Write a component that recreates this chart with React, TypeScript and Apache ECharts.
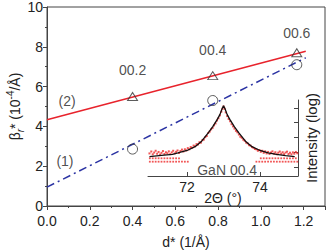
import React, { useEffect, useRef } from 'react';
import * as echarts from 'echarts';

// Main plot data: d* (1/Å) vs β_r* (10^-4/Å)
const reflections = ['00.2', '00.4', '00.6'];
const dStar = [0.4, 0.775, 1.168];
const betaTriangles = [5.5, 6.55, 7.7];
const betaCircles = [2.86, 5.3, 7.1];
const labelDistances = [15, 14, 8];
const fitLine2 = [[0, 4.33], [1.21, 7.78]];
const fitLine1 = [[0, 0.95], [1.21, 7.45]];
const lineTags = ['(2)', '(1)'];
const lineTagPos = [[0.094, 5.28], [0.084, 2.26]];

// Inset data: 2Θ (°) vs log intensity
const insetTag = 'GaN 00.4';
const insetTagPos = [73.1, 0.8];
const insetFit = [
  [70.97, 1.7], [71.3, 1.79], [71.6, 1.86], [71.75, 1.95], [72.0, 2.12], [72.22, 2.38],
  [72.4, 2.75], [72.58, 3.31], [72.7, 3.72], [72.82, 4.19], [72.9, 4.55], [72.96, 4.95],
  [73.0, 5.14], [73.04, 4.95], [73.1, 4.55], [73.18, 4.19], [73.3, 3.72], [73.42, 3.31],
  [73.6, 2.75], [73.78, 2.38], [74.0, 2.12], [74.22, 1.95], [74.45, 1.85], [74.7, 1.77], [74.95, 1.7],
];
const insetMeasured = [
  [70.97, 1.92], [71.02, 2.05], [71.06, 1.86], [71.1, 1.98], [71.14, 2.1], [71.18, 1.9],
  [71.22, 2.02], [71.26, 1.84], [71.3, 1.96], [71.34, 2.08], [71.38, 1.88], [71.42, 2.0],
  [71.46, 1.93], [71.5, 2.06], [71.54, 1.87], [71.58, 1.99], [71.62, 2.1], [71.66, 1.92],
  [71.7, 2.03], [71.74, 2.12], [71.78, 1.95], [71.82, 2.08], [71.86, 2.18], [71.9, 2.05],
  [71.94, 2.2], [71.98, 2.12], [72.02, 2.28], [72.06, 2.2], [72.1, 2.35], [72.14, 2.3],
  [72.18, 2.45], [72.22, 2.4], [72.26, 2.55], [72.3, 2.52], [72.34, 2.68], [72.38, 2.65],
  [72.42, 2.82], [72.46, 2.86], [72.5, 3.02], [72.54, 3.1], [72.58, 3.3], [72.62, 3.4],
  [72.66, 3.55], [72.7, 3.65], [72.74, 3.82], [72.78, 3.95], [72.82, 4.15], [72.86, 4.3],
  [72.9, 4.5], [72.94, 4.75], [72.97, 4.95], [73.0, 5.1], [73.03, 4.95], [73.06, 4.7],
  [73.1, 4.45], [73.14, 4.25], [73.18, 4.1], [73.22, 3.9], [73.26, 3.75], [73.3, 3.6],
  [73.34, 3.45], [73.38, 3.35], [73.42, 3.2], [73.46, 3.05], [73.5, 2.98], [73.54, 2.85],
  [73.58, 2.78], [73.62, 2.65], [73.66, 2.6], [73.7, 2.48], [73.74, 2.45], [73.78, 2.35],
  [73.82, 2.3], [73.86, 2.22], [73.9, 2.2], [73.94, 2.1], [73.98, 2.15], [74.02, 2.03],
  [74.06, 2.1], [74.1, 1.96], [74.14, 2.06], [74.18, 1.92], [74.22, 2.02], [74.26, 1.88],
  [74.3, 1.98], [74.34, 2.06], [74.38, 1.9], [74.42, 2.0], [74.46, 1.86], [74.5, 1.97],
  [74.54, 2.05], [74.58, 1.9], [74.62, 2.0], [74.66, 1.87], [74.7, 1.98], [74.74, 2.04],
  [74.78, 1.88], [74.82, 1.97], [74.86, 1.86], [74.9, 1.99], [74.94, 1.9], [74.98, 2.02], [75.02, 1.93],
];
const floorLevelLow = 1.36;
const floorLevelHigh = 1.59;
const floorAnglesLow = [
  70.98, 71.06, 71.14, 71.22, 71.3, 71.38, 71.46, 71.54, 71.62, 71.7, 71.78, 71.86, 71.94, 72.02,
  73.9, 73.98, 74.06, 74.14, 74.22, 74.3, 74.38, 74.46, 74.54, 74.62, 74.7, 74.78, 74.86, 74.94, 75.02,
];
const floorAnglesHigh = [
  70.98, 71.06, 71.14, 71.22, 71.3, 71.38, 71.46, 71.54, 71.62, 71.7, 71.78,
  74.02, 74.1, 74.18, 74.26, 74.34, 74.42, 74.5, 74.58, 74.66, 74.74, 74.82, 74.9, 74.98,
];
const insetXTicks = [72, 74];
const insetYTicks = [1, 2, 3, 4, 5];

const FONT = '"Liberation Sans", Arial, sans-serif';
const TXT = '#222';
const AX = '#444';

export default function App() {
  const ref = useRef<HTMLDivElement>(null);
  useEffect(() => {
    if (!ref.current) return;
    const chart = echarts.init(ref.current, undefined, { renderer: 'svg' });
    const floorData = [
      ...floorAnglesLow.map((a) => [a, floorLevelLow]),
      ...floorAnglesHigh.map((a) => [a, floorLevelHigh]),
    ];
    const tagLabel = { show: true, position: 'inside', fontSize: 14, color: TXT, fontFamily: FONT };
    chart.setOption({
      animation: false,
      textStyle: { fontFamily: FONT },
      grid: [
        { left: 47, right: 2, top: 7, bottom: 46, show: true, borderColor: AX, borderWidth: 1, backgroundColor: 'transparent', containLabel: false, outerBoundsMode: 'none' },
        { left: 148, right: 29, top: 100, bottom: 76, show: false, containLabel: false, outerBoundsMode: 'none' },
      ],
      xAxis: [
        {
          gridIndex: 0, type: 'value', min: 0, max: 1.3, interval: 0.2,
          name: 'd* (1/Å)', nameLocation: 'middle', nameGap: 29, nameMoveOverlap: false,
          nameTextStyle: { fontSize: 14, color: TXT, fontFamily: FONT },
          axisLine: { lineStyle: { color: AX, width: 1 } },
          axisTick: { inside: false, length: 4, lineStyle: { color: AX } },
          minorTick: { show: true, splitNumber: 2, length: 2, lineStyle: { color: AX } },
          splitLine: { show: false },
          axisLabel: {
            fontSize: 14, color: TXT, fontFamily: FONT, margin: 8,
            formatter: (v: number) => (v > 1.25 ? '' : v.toFixed(1)),
          },
        },
        {
          gridIndex: 1, type: 'value', min: 70.93, max: 75.04,
          name: '2Θ (°)', nameLocation: 'middle', nameGap: 15, nameMoveOverlap: false,
          nameTextStyle: { fontSize: 14, color: TXT, fontFamily: FONT },
          axisLine: { onZero: false, lineStyle: { color: AX, width: 1 } },
          axisTick: { inside: true, length: 4, lineStyle: { color: AX }, customValues: insetXTicks },
          splitLine: { show: false },
          axisLabel: { fontSize: 14, color: TXT, fontFamily: FONT, margin: 4, customValues: insetXTicks },
        },
      ],
      yAxis: [
        {
          gridIndex: 0, type: 'value', min: 0, max: 10, interval: 2,
          name: '{b|β}{s|r}{t|* (10}{p|-4}{t|/Å)}', nameLocation: 'middle', nameGap: 22, nameRotate: 90, nameMoveOverlap: false,
          nameTextStyle: {
            color: TXT, fontFamily: FONT, fontSize: 14,
            rich: {
              b: { fontSize: 14, color: TXT, fontFamily: FONT, lineHeight: 20 },
              t: { fontSize: 14, color: TXT, fontFamily: FONT, lineHeight: 20 },
              s: { fontSize: 10, color: TXT, fontFamily: FONT, fontStyle: 'italic', verticalAlign: 'bottom', lineHeight: 20, padding: [8, 0, 0, 0] },
              p: { fontSize: 10, color: TXT, fontFamily: FONT, verticalAlign: 'top', lineHeight: 20, padding: [0, 0, 8, 0] },
            },
          },
          axisLine: { lineStyle: { color: AX, width: 1 } },
          axisTick: { inside: false, length: 4, lineStyle: { color: AX } },
          minorTick: { show: true, splitNumber: 2, length: 2, lineStyle: { color: AX } },
          splitLine: { show: false },
          axisLabel: { fontSize: 14, color: TXT, fontFamily: FONT, margin: 4 },
        },
        {
          gridIndex: 1, type: 'value', min: 0.39, max: 5.54, position: 'right',
          name: 'Intensity (log)', nameLocation: 'middle', nameGap: 6, nameRotate: 90, nameMoveOverlap: false,
          nameTextStyle: { fontSize: 15, color: TXT, fontFamily: FONT },
          axisLine: { show: true, onZero: false, lineStyle: { color: AX, width: 1 } },
          axisTick: { inside: true, length: 4, lineStyle: { color: AX }, customValues: insetYTicks },
          splitLine: { show: false },
          axisLabel: { show: false },
        },
      ],
      series: [
        {
          type: 'line', xAxisIndex: 0, yAxisIndex: 0, data: fitLine2, symbol: 'none',
          lineStyle: { color: '#e8232c', width: 1.5 }, z: 2,
        },
        {
          type: 'line', xAxisIndex: 0, yAxisIndex: 0, data: fitLine1, symbol: 'none',
          lineStyle: { color: '#2b33a3', width: 1.5, type: [8, 4, 2, 4] }, z: 2,
        },
        {
          type: 'scatter', xAxisIndex: 0, yAxisIndex: 0, symbol: 'triangle', symbolSize: [10, 8],
          itemStyle: { color: 'transparent', borderColor: '#333', borderWidth: 1 },
          data: dStar.map((d, i) => ({
            value: [d, betaTriangles[i]],
            label: {
              show: true, position: 'top', distance: labelDistances[i], formatter: reflections[i],
              fontSize: 14, color: TXT, fontFamily: FONT,
            },
          })),
          z: 4,
        },
        {
          type: 'scatter', xAxisIndex: 0, yAxisIndex: 0, symbol: 'circle', symbolSize: 10,
          itemStyle: { color: 'transparent', borderColor: '#333', borderWidth: 1 },
          data: dStar.map((d, i) => [d, betaCircles[i]]),
          z: 4,
        },
        {
          type: 'scatter', xAxisIndex: 0, yAxisIndex: 0, symbolSize: 0, silent: true,
          data: lineTagPos.map((p, i) => ({ value: p, label: { ...tagLabel, formatter: lineTags[i] } })),
          z: 6,
        },
        {
          type: 'scatter', xAxisIndex: 1, yAxisIndex: 1, symbol: 'rect', symbolSize: 1.8,
          itemStyle: { color: '#ee2a2a' }, data: floorData, z: 3,
        },
        {
          type: 'scatter', xAxisIndex: 1, yAxisIndex: 1, symbol: 'rect', symbolSize: 2,
          itemStyle: { color: '#ee2a2a' }, data: insetMeasured, z: 3,
        },
        {
          type: 'line', xAxisIndex: 1, yAxisIndex: 1, data: insetFit, symbol: 'none',
          lineStyle: { color: '#111', width: 1.3 }, z: 5,
        },
        {
          type: 'scatter', xAxisIndex: 1, yAxisIndex: 1, symbolSize: 0, silent: true,
          data: [{ value: insetTagPos, label: { ...tagLabel, formatter: insetTag } }],
          z: 6,
        },
      ],
    });
    return () => chart.dispose();
  }, []);
  return <div ref={ref} style={{ width: 327, height: 252, position: 'absolute', left: 0, top: 0 }} />;
}
